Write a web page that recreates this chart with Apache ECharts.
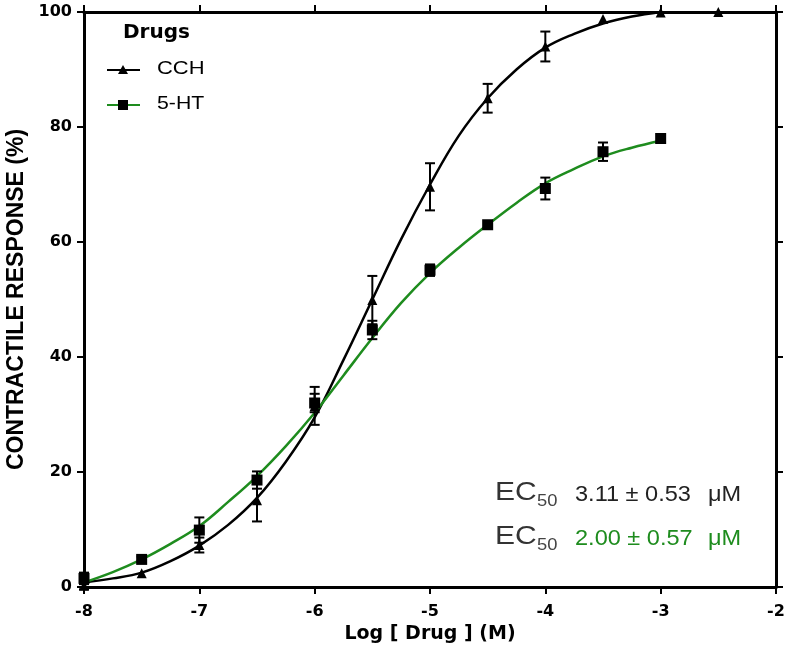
<!DOCTYPE html>
<html>
<head>
<meta charset="utf-8">
<script src="https://cdn.jsdelivr.net/npm/echarts@6/dist/echarts.min.js"></script>
<style>
html,body{margin:0;padding:0;background:#fff;}
#chart{width:787px;height:658px;}
</style>
</head>
<body>
<div id="chart"></div>
<script>
// ---- data ----
const xTicks = [-8, -7, -6, -5, -4, -3, -2];
const yTicks = [0, 20, 40, 60, 80, 100];

const cchDose = [-8, -7.5, -7, -6.5, -6, -5.5, -5, -4.5, -4, -3.5, -3, -2.5];
const cchMean = [0.2, 2.4, 7.3, 15.1, 31.5, 49.9, 69.6, 85.0, 94.0, 98.8, 99.9, 100];
const cchSem  = [0.6, 0, 1.3, 3.7, 3.3, 4.2, 4.1, 2.5, 2.6, 0, 0, 0];

const htDose = [-8, -7.5, -7, -6.5, -6, -5.5, -5, -4.5, -4, -3.5, -3];
const htMean = [1.5, 4.8, 9.9, 18.6, 32.0, 44.7, 55.1, 63.0, 69.3, 75.7, 78.0];
const htSem  = [1.0, 0.5, 2.2, 1.5, 1.6, 1.6, 1.0, 0, 1.9, 1.6, 0];

const curveDose = [-8, -7.75, -7.5, -7.25, -7, -6.75, -6.5, -6.25, -6, -5.75, -5.5, -5.25, -5, -4.75, -4.5, -4.25, -4, -3.75, -3.5, -3.25, -3];
const cchCurve  = [0.8, 1.5, 2.5, 4.5, 7.2, 10.8, 15.5, 21.8, 29.5, 39.5, 50.0, 60.5, 70.0, 78.5, 85.0, 90.0, 93.8, 96.2, 98.0, 99.2, 100];
const htCurve   = [0.8, 2.6, 4.8, 7.5, 10.6, 14.8, 19.3, 24.5, 30.3, 36.8, 43.3, 49.4, 54.6, 59.0, 63.0, 66.8, 70.2, 72.7, 74.9, 76.4, 77.6];

const seriesNames = ['CCH', '5-HT'];
const legendTitle = 'Drugs';
const ec50Values = ['3.11 \u00b1 0.53', '2.00 \u00b1 0.57'];
const ec50Unit = '\u03bcM';

const GREEN = '#1e8c1e';
const SANS = '"Liberation Sans", Arial, sans-serif';
const WIDE = '"DejaVu Sans", sans-serif';

function pairs(xs, ys) { return xs.map((x, i) => [x, ys[i]]); }
function triples(xs, ys, es) { return xs.map((x, i) => [x, ys[i], es[i]]); }

function errRender(params, api) {
  const x = api.value(0), y = api.value(1), e = api.value(2);
  if (!e) return null;
  const t = api.coord([x, y + e]);
  const b = api.coord([x, y - e]);
  const hw = 5;
  const st = { stroke: '#000', lineWidth: 2 };
  return {
    type: 'group',
    children: [
      { type: 'line', shape: { x1: t[0], y1: t[1], x2: b[0], y2: b[1] }, style: st },
      { type: 'line', shape: { x1: t[0] - hw, y1: t[1], x2: t[0] + hw, y2: t[1] }, style: st },
      { type: 'line', shape: { x1: b[0] - hw, y1: b[1], x2: b[0] + hw, y2: b[1] }, style: st }
    ]
  };
}

function txt(x, y, text, font, fill, sx) {
  return { type: 'text', x: x, y: y, scaleX: sx || 1, originX: 0, originY: 0,
    style: { text: text, x: 0, y: 0, font: font, fill: fill, align: 'left', verticalAlign: 'top' } };
}

const chart = echarts.init(document.getElementById('chart'));
const tickFont = { fontFamily: WIDE, fontWeight: 'bold', fontSize: 16, color: '#000' };

const option = {
  animation: false,
  backgroundColor: '#fff',
  grid: { left: 84, right: 11, top: 12, bottom: 71, containLabel: false, outerBoundsMode: 'none' },
  xAxis: [{
    type: 'value', min: xTicks[0], max: xTicks[xTicks.length - 1], interval: 1,
    name: 'Log [ Drug ] (M)', nameLocation: 'middle', nameGap: 35,
    nameTextStyle: { fontFamily: WIDE, fontWeight: 'bold', fontSize: 19, color: '#000' },
    axisLine: { show: true, onZero: false, lineStyle: { color: '#000', width: 3 } },
    axisTick: { show: true, length: 7, lineStyle: { color: '#000', width: 2 } },
    axisLabel: Object.assign({}, tickFont, { margin: 17 }),
    splitLine: { show: false }
  }, {
    type: 'value', position: 'top', min: xTicks[0], max: xTicks[xTicks.length - 1], interval: 1,
    axisLine: { show: true, onZero: false, lineStyle: { color: '#000', width: 3 } },
    axisTick: { show: true, length: 7, lineStyle: { color: '#000', width: 2 } },
    axisLabel: { show: false }, splitLine: { show: false }
  }],
  yAxis: [{
    type: 'value', min: yTicks[0], max: yTicks[yTicks.length - 1], interval: 20,
    name: 'CONTRACTILE RESPONSE (%)', nameLocation: 'middle', nameGap: 49,
    nameTextStyle: { fontFamily: SANS, fontWeight: 'bold', fontSize: 23, color: '#000' },
    axisLine: { show: true, onZero: false, lineStyle: { color: '#000', width: 3 } },
    axisTick: { show: true, length: 7, lineStyle: { color: '#000', width: 2 } },
    axisLabel: Object.assign({}, tickFont, { margin: 12 }),
    splitLine: { show: false }
  }, {
    type: 'value', position: 'right', min: yTicks[0], max: yTicks[yTicks.length - 1], interval: 20,
    axisLine: { show: true, onZero: false, lineStyle: { color: '#000', width: 3 } },
    axisTick: { show: true, length: 7, lineStyle: { color: '#000', width: 2 } },
    axisLabel: { show: false }, splitLine: { show: false }
  }],
  series: [
    { name: seriesNames[0] + ' fit', type: 'line', data: pairs(curveDose, cchCurve), smooth: 0.4,
      showSymbol: false, symbol: 'none', lineStyle: { color: '#000', width: 2.5 }, z: 2, clip: false },
    { name: seriesNames[1] + ' fit', type: 'line', data: pairs(curveDose, htCurve), smooth: 0.4,
      showSymbol: false, symbol: 'none', lineStyle: { color: GREEN, width: 2.5 }, z: 2, clip: false },
    { name: seriesNames[0] + ' err', type: 'custom', data: triples(cchDose, cchMean, cchSem),
      renderItem: errRender, z: 3, clip: false },
    { name: seriesNames[1] + ' err', type: 'custom', data: triples(htDose, htMean, htSem),
      renderItem: errRender, z: 3, clip: false },
    { name: seriesNames[0], type: 'scatter', data: pairs(cchDose, cchMean), symbol: 'triangle',
      symbolSize: 10, itemStyle: { color: '#000', opacity: 1 }, z: 4, clip: false },
    { name: seriesNames[1], type: 'scatter', data: pairs(htDose, htMean), symbol: 'rect',
      symbolSize: 11, itemStyle: { color: '#000', opacity: 1 }, z: 4, clip: false }
  ],
  graphic: [
    txt(123, 23, legendTitle, 'bold 20px ' + WIDE, '#000', 1),
    { type: 'line', shape: { x1: 107, y1: 70, x2: 140, y2: 70 }, style: { stroke: '#000', lineWidth: 2 } },
    { type: 'polygon', shape: { points: [[123, 65], [128, 74], [118, 74]] }, style: { fill: '#000' } },
    txt(157, 60, seriesNames[0], '18px ' + SANS, '#000', 1.22),
    { type: 'line', shape: { x1: 107, y1: 105, x2: 140, y2: 105 }, style: { stroke: GREEN, lineWidth: 2 } },
    { type: 'rect', shape: { x: 118, y: 100, width: 10, height: 10 }, style: { fill: '#000' } },
    txt(157, 95, seriesNames[1], '18px ' + SANS, '#000', 1.18),

    txt(495, 481, 'EC', '25px ' + SANS, '#333', 1.2),
    txt(537, 493, '50', '17px ' + SANS, '#444', 1.08),
    txt(575, 484, ec50Values[0], '22px ' + SANS, '#222', 1.07),
    txt(708, 484, ec50Unit, '22px ' + SANS, '#222', 1.07),

    txt(495, 525, 'EC', '25px ' + SANS, '#333', 1.2),
    txt(537, 537, '50', '17px ' + SANS, '#444', 1.08),
    txt(575, 528, ec50Values[1], '22px ' + SANS, GREEN, 1.07),
    txt(708, 528, ec50Unit, '22px ' + SANS, GREEN, 1.07)
  ]
};
chart.setOption(option);
</script>
</body>
</html>
